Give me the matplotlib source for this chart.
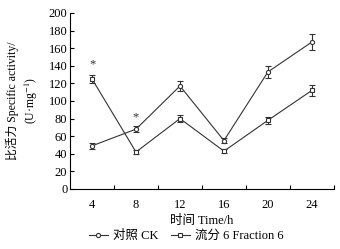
import matplotlib.pyplot as plt
from matplotlib.lines import Line2D

# data
times = ["4", "8", "12", "16", "20", "24"]
ck_mean = [49, 68, 117, 55, 133, 167]
ck_err = [3, 3, 6, 3, 7, 9]
frac_mean = [125, 42, 80, 43, 78, 112]
frac_err = [5, 2, 4, 2, 4, 6]
star_pos = [0, 1]
star_val = [142, 81]

plt.rcParams['font.family'] = ['Liberation Serif', 'Noto Sans CJK SC']
plt.rcParams['mathtext.fontset'] = 'stix'

fig = plt.figure(figsize=(3.4, 2.49), dpi=100)
ax = fig.add_axes([0.206, 0.241, 0.776, 0.707])

c = '#333333'
style = dict(color=c, lw=0.8, ms=3, mfc='white', mec=c, mew=0.8,
             capsize=2.5, elinewidth=0.8, capthick=0.8)
x = list(range(len(times)))
ax.errorbar(x, ck_mean, yerr=ck_err, marker='o', **style)
ax.errorbar(x, frac_mean, yerr=frac_err, marker='s', **style)

for i, v in zip(star_pos, star_val):
    ax.text(i, v, '*', ha='center', va='center', fontsize=9, color=c)

ax.set_xlim(-0.5, 5.5)
ax.set_ylim(0, 200)
ax.set_yticks(range(0, 201, 20))
ax.set_xticks(x)
ax.set_xticklabels(times)
ax.set_xticks([i + 0.5 for i in x], minor=True)
ax.tick_params(axis='x', which='major', length=0, labelsize=9, pad=7)
ax.tick_params(axis='x', which='minor', direction='in', length=3, width=0.8)
ax.tick_params(axis='y', direction='in', length=3, width=0.8, labelsize=9, pad=2)

for s in ['top', 'right']:
    ax.spines[s].set_visible(False)
for s in ['left', 'bottom']:
    ax.spines[s].set_linewidth(0.8)

ax.set_xlabel('时间 Time/h', fontsize=9, labelpad=3)
ax.set_ylabel('比活力 Specific activity/\n(U·mg$^{-1}$)', fontsize=8.5,
              labelpad=6, linespacing=1.35)

handles = [Line2D([], [], color=c, lw=0.8, marker='o', ms=3, mfc='white', mec=c, mew=0.8),
           Line2D([], [], color=c, lw=0.8, marker='s', ms=3, mfc='white', mec=c, mew=0.8)]
ax.legend(handles, ['对照 CK', '流分 6 Fraction 6'], loc='upper center',
          bbox_to_anchor=(0.44, -0.17), ncol=2, frameon=False, fontsize=9,
          handlelength=1.5, columnspacing=1.0, handletextpad=0.4)

fig.savefig('out.png', dpi=100)
